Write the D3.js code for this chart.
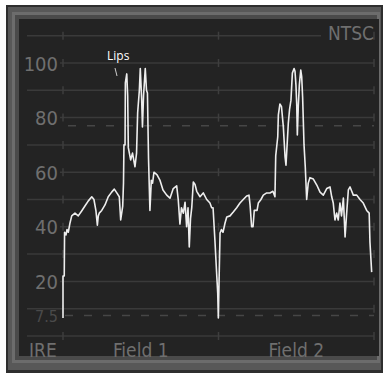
<!DOCTYPE html>
<html>
<head>
<meta charset="utf-8">
<script src="https://cdn.jsdelivr.net/npm/d3@7"></script>
<style>
  body { margin: 0; background: #fff; }
  svg { display: block; }
</style>
</head>
<body>
<script>
// position along the two fields (0-100 = field 1, 100-200 = field 2), level in IRE
const pos = [0, 0, 0.8, 1.0, 1.9, 2.6, 3.4, 4.5, 5.6, 7.7, 9.8, 12.0, 14.1, 16.3, 18.5, 19.9, 21.2, 22.1, 22.7, 23.3,
  24.9, 27.0, 29.1, 31.3, 33.0, 34.5, 36.2, 37.1, 38.4, 38.9, 39.2, 39.9, 40.1, 41.0, 41.6, 42.0, 43.5, 44.7, 46.3, 47.3,
  48.0, 49.1, 49.7, 50.6, 51.1, 51.8, 52.9, 53.7, 54.3, 55.0, 55.9, 56.8, 57.6, 58.5, 60.5, 62.4, 64.3, 66.7, 68.8, 70.9,
  73.1, 74.1, 75.2, 76.2, 77.4, 78.5, 79.5, 80.4, 81.2, 82.0, 82.8, 83.8, 84.9, 86.0, 88.1, 90.2, 92.4, 94.5, 95.6, 96.5,
  97.7, 98.8, 99.5, 99.9, 100.5, 101.0, 101.9, 102.9, 104.2, 105.3, 107.4, 109.5, 111.7, 113.8, 115.9, 118.1, 119.6, 120.3, 121.3, 122.2,
  123.0, 124.8, 125.6, 127.3, 128.8, 131.0, 133.1, 135.0, 136.3, 136.8, 138.1, 138.5, 139.5, 140.5, 141.7, 142.8, 143.4, 144.3, 144.9, 145.7,
  146.6, 147.5, 148.6, 149.2, 149.8, 150.3, 150.7, 151.3, 152.0, 152.9, 153.5, 154.1, 155.0, 155.8, 156.7, 157.7, 158.8, 161.0, 163.2, 165.3,
  167.4, 169.6, 171.7, 172.8, 173.8, 174.9, 176.0, 177.0, 178.1, 179.1, 180.3, 181.4, 182.3, 183.5, 184.6, 185.7, 186.7, 188.9, 191.0, 193.1,
  195.3, 196.9, 197.4, 198.5];
const ire = [6.6, 22, 22, 38, 37, 39, 38, 41.4, 44, 45, 44, 45.8, 47.6, 49.5, 51, 50, 45.8, 40.6, 44, 45,
  46, 48, 51, 52.7, 53.8, 52.5, 51, 42.5, 47.6, 56, 70, 70, 92.7, 96, 88, 69, 64.5, 67, 62, 67,
  81.7, 90, 98, 86.4, 76.6, 88, 98, 90, 89, 65, 46, 57, 56, 60, 59, 57, 53.5, 51.6, 50.5, 54,
  55, 50, 41, 47, 45, 49, 40, 47, 32.6, 43, 47, 56.4, 55.5, 53, 51, 52.4, 50, 48.7, 47, 47,
  35, 23, 15.7, 6.6, 24, 37.7, 39, 38, 41.4, 43.6, 44, 45.4, 47, 48.7, 50, 51.3, 51.6, 48, 40, 40,
  46, 46, 48.7, 50, 51.6, 52.4, 52.4, 53, 51, 66, 73, 81, 85, 84, 76.6, 65.6, 62.6, 71.8, 78, 83,
  86.4, 96.3, 98, 97, 92, 85, 73.6, 84, 92, 97.4, 95, 87.5, 70, 62, 50, 56, 58, 57.5, 55.3, 52.7,
  51.6, 54, 54.6, 51, 48.7, 42.5, 45, 42.5, 48.7, 44, 50.5, 36.3, 44, 53.5, 54.6, 53, 51.6, 51.6, 50, 48.7,
  46, 45, 34.4, 23.4];

const gridLevels = [0, 10, 20, 30, 40, 50, 60, 70, 80, 90, 100, 110];
const labelLevels = [20, 40, 60, 80, 100];
const dashLevels = [7.5, 77];
const fieldTicks = [0, 100, 200];
const fieldNames = ["Field 1", "Field 2"];

const W = 383, H = 373;
const svg = d3.select("body").append("svg").attr("width", W).attr("height", H);

// bezel
svg.append("rect").attr("x", 6).attr("y", 5).attr("width", 377).attr("height", 368).attr("fill", "#2e2e2e");
svg.append("rect").attr("x", 8).attr("y", 7).attr("width", 373).attr("height", 363).attr("fill", "#585858");
svg.append("rect").attr("x", 13.5).attr("y", 13.5).attr("width", 365).attr("height", 348)
  .attr("fill", "#4a4a4a").attr("stroke", "#6c6c6c").attr("stroke-width", 3);
svg.append("rect").attr("x", 19).attr("y", 19).attr("width", 360).attr("height", 337).attr("fill", "#232323");

const x = d3.scaleLinear().domain([0, 200]).range([63, 374]);
const y = d3.scaleLinear().domain([0, 110]).range([336, 35.7]);

// grid
svg.append("g").selectAll("line").data(gridLevels).join("line")
  .attr("x1", d => labelLevels.includes(d) ? 60 : 27)
  .attr("x2", d => d === 110 ? 321 : x(200))
  .attr("y1", d => y(d)).attr("y2", d => y(d))
  .attr("stroke", "#3a3a3a").attr("stroke-width", 1.5);

svg.append("g").selectAll("line").data(dashLevels).join("line")
  .attr("x1", d => d === 77 ? 68 : x(0) + 2).attr("x2", x(200))
  .attr("y1", d => y(d)).attr("y2", d => y(d))
  .attr("stroke", "#464646").attr("stroke-width", 1.5).attr("stroke-dasharray", "8,11");

// small vertical marks on the field boundaries
const marks = [];
fieldTicks.forEach(f => gridLevels.forEach(l => marks.push([f, l])));
svg.append("g").selectAll("line").data(marks).join("line")
  .attr("x1", d => x(d[0])).attr("x2", d => x(d[0]))
  .attr("y1", d => y(d[1]) - 4).attr("y2", d => y(d[1]) + 4)
  .attr("stroke", "#3e3e3e").attr("stroke-width", 1.5);

const font = "'DejaVu Sans Condensed', 'DejaVu Sans', sans-serif";

svg.append("g").selectAll("text").data(labelLevels).join("text")
  .attr("x", 58).attr("y", d => y(d) + 7.5)
  .attr("text-anchor", "end").attr("font-family", font).attr("font-size", 20)
  .attr("fill", "#6f6f6f").text(d => d);

svg.append("text").attr("x", 58).attr("y", y(7.5) + 6)
  .attr("text-anchor", "end").attr("font-family", font).attr("font-size", 16)
  .attr("fill", "#4a4a4a").text("7.5");

svg.append("text").attr("x", 29).attr("y", 357)
  .attr("font-family", font).attr("font-size", 19).attr("fill", "#6f6f6f").text("IRE");

svg.append("g").selectAll("text").data(fieldNames).join("text")
  .attr("x", (d, i) => x(i * 100 + 50)).attr("y", 357)
  .attr("text-anchor", "middle").attr("font-family", font).attr("font-size", 19)
  .attr("fill", "#6f6f6f").text(d => d);

svg.append("text").attr("x", 374).attr("y", 40)
  .attr("text-anchor", "end").attr("font-family", font).attr("font-size", 19)
  .attr("fill", "#6f6f6f").text("NTSC");

// waveform
const line = d3.line().x(d => x(d[0])).y(d => y(d[1]));
svg.append("path").datum(pos.map((p, i) => [p, ire[i]]))
  .attr("d", line).attr("fill", "none")
  .attr("stroke", "#eeeeee").attr("stroke-width", 1.6).attr("stroke-linejoin", "round");

// annotation
svg.append("text").attr("x", 107).attr("y", 60)
  .attr("font-family", "'Open Sans', sans-serif").attr("font-size", 12)
  .attr("fill", "#ffffff").text("Lips");
svg.append("line").attr("x1", 115).attr("y1", 68).attr("x2", 117).attr("y2", 76)
  .attr("stroke", "#cccccc").attr("stroke-width", 1);
</script>
</body>
</html>
